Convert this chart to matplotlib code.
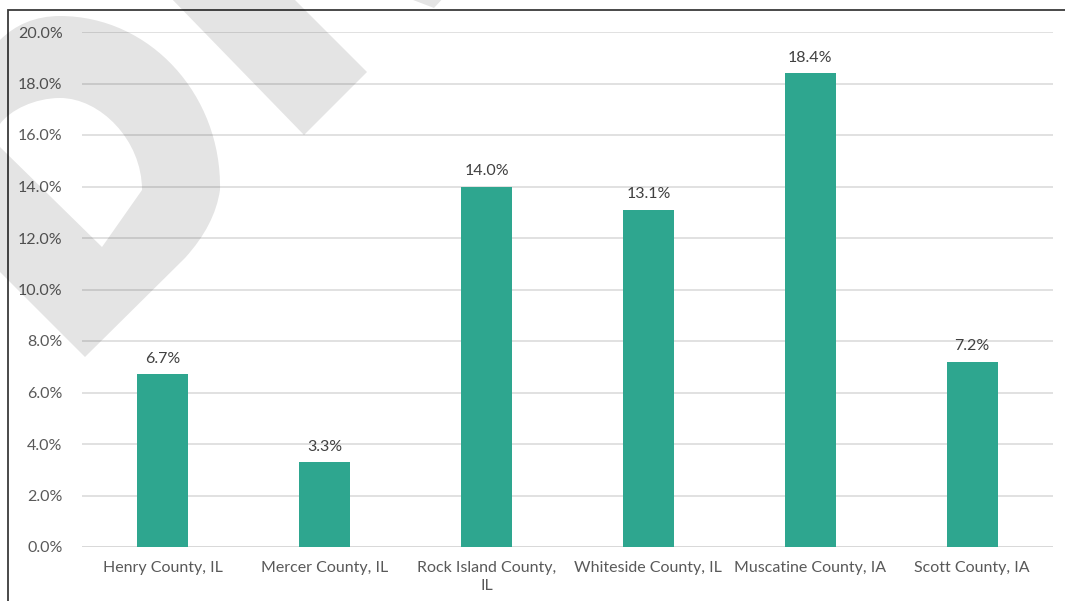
import numpy as np
import matplotlib
matplotlib.use("Agg")
import matplotlib.pyplot as plt
from matplotlib.path import Path
from matplotlib.patches import PathPatch
from matplotlib.transforms import Affine2D
from matplotlib.ticker import FuncFormatter

plt.rcParams['font.family'] = ['Lato', 'DejaVu Sans']

# county shares (%)
counties = ["Henry County, IL", "Mercer County, IL", "Rock Island County,\nIL",
            "Whiteside County, IL", "Muscatine County, IA", "Scott County, IA"]
shares = [6.7, 3.3, 14.0, 13.1, 18.4, 7.2]
y_ticks = [0, 2, 4, 6, 8, 10, 12, 14, 16, 18, 20]

bar_color = "#2EA68F"
text_color = "#595959"
grid_color = "#D9D9D9"

W, H = 1065, 601
fig = plt.figure(figsize=(W / 100, H / 100), dpi=100)
fig.patch.set_facecolor("white")
ax = fig.add_axes([82 / W, 1 - 547 / H, (1053 - 82) / W, (547 - 32) / H])

x = np.arange(len(counties))
ax.bar(x, shares, width=0.315, color=bar_color, zorder=3)
for xi, v in zip(x, shares):
    ax.annotate(f"{v:.1f}%", (xi, v), xytext=(0, 6), textcoords="offset points",
                ha="center", va="bottom", fontsize=11.5, color="#404040")

ax.set_xlim(-0.5, len(counties) - 0.5)
ax.set_ylim(0, 20)
ax.set_yticks(y_ticks)
ax.yaxis.set_major_formatter(FuncFormatter(lambda v, _: f"{v:.1f}%"))
ax.set_xticks(x)
ax.set_xticklabels(counties, linespacing=1.4)
ax.tick_params(axis="both", length=0, labelsize=11.5, labelcolor=text_color)
ax.tick_params(axis="y", pad=14)
ax.tick_params(axis="x", pad=10)
ax.grid(axis="y", color=grid_color, linewidth=1.1, zorder=0)
ax.set_axisbelow(True)
for s in ax.spines.values():
    s.set_visible(False)
ax.axhline(0, color=grid_color, linewidth=1.3, zorder=2)

# pixel coordinates (y down) -> figure
px = Affine2D().scale(1 / W, -1 / H).translate(0, 1) + fig.transFigure

# chart frame (left and top edges)
frame = Path([(8, H + 5), (8, 10), (W + 5, 10)], [Path.MOVETO, Path.LINETO, Path.LINETO])
fig.add_artist(PathPatch(frame, transform=px, fill=False, edgecolor="#3A3A3A",
                         linewidth=1.3, zorder=5))

# background logo watermark
M, L, C4, Q, Z = Path.MOVETO, Path.LINETO, Path.CURVE4, Path.CURVE3, Path.CLOSEPOLY
outer_v = [(-10, 50), (0, 40), (15, 25), (35, 16), (60, 16),
           (150, 16), (222, 95), (220, 190),
           (215, 225), (185, 258),
           (85, 357), (-10, 262), (-10, 50)]
outer_c = [M, L, C4, C4, C4, C4, C4, C4, Q, Q, L, L, Z]
hole_v = [(0, 147), (102, 247), (142, 190),
          (142, 140), (100, 98), (60, 98),
          (35, 98), (10, 110), (0, 124), (0, 147)]
hole_c = [M, L, L, C4, C4, C4, C4, C4, C4, Z]
d_shape = Path(outer_v + hole_v, outer_c + hole_c)
band = Path([(168, -5), (304, 135), (367, 72), (290, -5), (168, -5)], [M, L, L, L, Z])
tip = Path([(400, -5), (434, 8), (446, -5), (400, -5)], [M, L, L, Z])
for p in (d_shape, band, tip):
    fig.add_artist(PathPatch(p, transform=px, facecolor="black", edgecolor="none",
                             alpha=0.105, zorder=10))

fig.savefig("out.png", dpi=100)
